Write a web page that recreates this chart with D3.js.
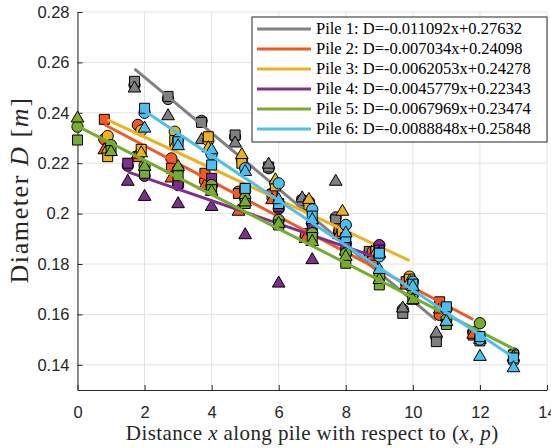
<!DOCTYPE html>
<html>
<head>
<meta charset="utf-8">
<script src="https://cdn.jsdelivr.net/npm/d3@7"></script>
<style>
  body { margin: 0; background: #fff; }
  svg { display: block; }
</style>
</head>
<body>
<script>
// axis ticks
var xTicks = [0, 2, 4, 6, 8, 10, 12, 14];
var yTicks = [0.14, 0.16, 0.18, 0.2, 0.22, 0.24, 0.26, 0.28];
var yTickLabels = ["0.14", "0.16", "0.18", "0.2", "0.22", "0.24", "0.26", "0.28"];

// piles and their linear fits
var pileNames = ["Pile 1", "Pile 2", "Pile 3", "Pile 4", "Pile 5", "Pile 6"];
var pileColors = ["#808080", "#f05a22", "#edb120", "#7e2f8e", "#77ac30", "#4dbeee"];
var fitSlope = [-0.011092, -0.007034, -0.0062053, -0.0045779, -0.0067969, -0.0088848];
var fitIntercept = [0.27632, 0.24098, 0.24278, 0.22343, 0.23474, 0.25848];

// measurements (circle / square / triangle) for each pile
var pile1X        = [1.7, 2.7, 3.7, 4.7, 5.7, 6.7, 7.7, 8.7, 9.7, 10.7];
var pile1Circle   = [0.2510, 0.2455, 0.2368, 0.2305, 0.2180, 0.2055, 0.1985, 0.1845, 0.1620, 0.1510];
var pile1Square   = [0.2525, 0.2465, 0.2362, 0.2312, 0.2185, 0.2050, 0.1975, 0.1850, 0.1604, 0.1492];
var pile1Triangle = [0.2497, 0.2387, 0.2292, 0.2279, 0.2195, 0.2061, 0.2127, 0.1835, 0.1624, 0.1525];

var pile2X        = [0.8, 1.8, 2.8, 3.8, 4.8, 5.8, 6.8, 7.8, 8.8, 9.8, 10.8, 11.8];
var pile2Circle   = [0.2295, 0.2352, 0.2219, 0.2130, 0.2087, 0.2080, 0.1908, 0.1928, 0.1849, 0.1723, 0.1598, 0.1530];
var pile2Square   = [0.2374, 0.2226, 0.2180, 0.2160, 0.2080, 0.2075, 0.1920, 0.1940, 0.1816, 0.1730, 0.1650, 0.1518];
var pile2Triangle = [0.2252, 0.2235, 0.2140, 0.2110, 0.2008, 0.2054, 0.1900, 0.1915, 0.1830, 0.1715, 0.1620, 0.1520];

var pile3X        = [0.9, 1.9, 2.9, 3.9, 4.9, 5.9, 6.9, 7.9, 8.9, 9.9];
var pile3Circle   = [0.2308, 0.2330, 0.2325, 0.2290, 0.2215, 0.2120, 0.2047, 0.1940, 0.1860, 0.1750];
var pile3Square   = [0.2226, 0.2255, 0.2290, 0.2305, 0.2200, 0.2110, 0.2035, 0.1930, 0.1850, 0.1740];
var pile3Triangle = [0.2255, 0.2240, 0.2270, 0.2260, 0.2233, 0.2133, 0.2055, 0.2008, 0.1845, 0.1730];

var pile4X        = [1.5, 2, 3, 4, 5, 6, 7, 8, 9];
var pile4Circle   = [0.2190, 0.2150, 0.2113, 0.2110, 0.2090, 0.2020, 0.1960, 0.1880, 0.1875];
var pile4Square   = [0.2200, 0.2160, 0.2120, 0.2140, 0.2100, 0.2027, 0.1950, 0.1870, 0.1855];
var pile4Triangle = [0.2127, 0.2067, 0.2038, 0.2027, 0.1915, 0.1723, 0.1816, 0.1850, 0.1840];

var pile5X        = [0, 1, 2, 3, 4, 5, 6, 7, 8, 9, 10, 11, 12, 13];
var pile5Circle   = [0.2345, 0.2272, 0.2190, 0.2175, 0.2113, 0.2061, 0.1975, 0.1922, 0.1842, 0.1750, 0.1680, 0.1580, 0.1565, 0.1445];
var pile5Square   = [0.2292, 0.2250, 0.2160, 0.2150, 0.2095, 0.2040, 0.1955, 0.1905, 0.1803, 0.1717, 0.1660, 0.1560, 0.1495, 0.1439];
var pile5Triangle = [0.2378, 0.2245, 0.2186, 0.2186, 0.2087, 0.2045, 0.1960, 0.1888, 0.1829, 0.1737, 0.1657, 0.1570, 0.1500, 0.1430];

var pile6X        = [2, 3, 4, 5, 6, 7, 8, 9, 10, 11, 12, 13];
var pile6Circle   = [0.2400, 0.2295, 0.2235, 0.2180, 0.2120, 0.2017, 0.1955, 0.1830, 0.1730, 0.1620, 0.1500, 0.1415];
var pile6Square   = [0.2418, 0.2285, 0.2193, 0.2100, 0.2040, 0.1990, 0.1905, 0.1843, 0.1720, 0.1630, 0.1512, 0.1427];
var pile6Triangle = [0.2338, 0.2268, 0.2252, 0.2166, 0.2054, 0.1975, 0.1922, 0.1777, 0.1710, 0.1571, 0.1432, 0.1387];

var pileX = [pile1X, pile2X, pile3X, pile4X, pile5X, pile6X];
var pileCircle = [pile1Circle, pile2Circle, pile3Circle, pile4Circle, pile5Circle, pile6Circle];
var pileSquare = [pile1Square, pile2Square, pile3Square, pile4Square, pile5Square, pile6Square];
var pileTriangle = [pile1Triangle, pile2Triangle, pile3Triangle, pile4Triangle, pile5Triangle, pile6Triangle];

var svgWidth = 551;
var svgHeight = 448;
var margin = { top: 12, right: 4, bottom: 58, left: 77.5 };
var width = svgWidth - margin.left - margin.right;
var height = svgHeight - margin.top - margin.bottom;

var svg = d3.select("body").append("svg")
  .attr("width", svgWidth)
  .attr("height", svgHeight)
  .style("background", "#fff");

var chartGroup = svg.append("g")
  .attr("transform", `translate(${margin.left}, ${margin.top})`);

var xScale = d3.scaleLinear().domain([0, 14]).range([0, width]);
var yScale = d3.scaleLinear().domain([0.13, 0.28]).range([height, 0]);

// grid
chartGroup.append("g").selectAll("line")
  .data(xTicks).enter().append("line")
  .attr("x1", d => xScale(d)).attr("x2", d => xScale(d))
  .attr("y1", 0).attr("y2", height)
  .attr("stroke", "#e2e2e2").attr("stroke-width", 1);
chartGroup.append("g").selectAll("line")
  .data(yTicks).enter().append("line")
  .attr("x1", 0).attr("x2", width)
  .attr("y1", d => yScale(d)).attr("y2", d => yScale(d))
  .attr("stroke", "#e2e2e2").attr("stroke-width", 1);

// axes
var bottomAxis = d3.axisBottom(xScale).tickValues(xTicks).tickSizeInner(-5).tickSizeOuter(0).tickPadding(16);
var leftAxis = d3.axisLeft(yScale).tickValues(yTicks).tickSizeInner(-5).tickSizeOuter(0).tickPadding(8)
  .tickFormat((d, i) => yTickLabels[i]);

var xAxis = chartGroup.append("g")
  .attr("transform", `translate(0, ${height})`)
  .call(bottomAxis);
var yAxis = chartGroup.append("g").call(leftAxis);

[xAxis, yAxis].forEach(function(ax) {
  ax.select(".domain").attr("stroke", "#262626");
  ax.selectAll(".tick line").attr("stroke", "#262626");
  ax.selectAll("text")
    .attr("fill", "#262626")
    .style("font-family", "'Liberation Sans', Arial, sans-serif")
    .style("font-size", "16.5px");
});

// markers and fit lines, pile by pile
var circleSym = d3.symbol().type(d3.symbolCircle).size(100);
var squareSym = d3.symbol().type(d3.symbolSquare).size(100);
var triangleSym = d3.symbol().type(d3.symbolTriangle).size(70);

pileNames.forEach(function(name, p) {
  var g = chartGroup.append("g");
  var xs = pileX[p];
  var sets = [[pileCircle[p], circleSym], [pileSquare[p], squareSym], [pileTriangle[p], triangleSym]];

  sets.forEach(function(set) {
    g.selectAll(null)
      .data(xs.map((x, i) => ({ x: x, y: set[0][i] })))
      .enter()
      .append("path")
      .attr("d", set[1])
      .attr("transform", d => `translate(${xScale(d.x)}, ${yScale(d.y)})`)
      .attr("fill", pileColors[p])
      .attr("stroke", "#000")
      .attr("stroke-width", 1);
  });

  var xMin = d3.min(xs), xMax = d3.max(xs);
  g.append("line")
    .attr("x1", xScale(xMin)).attr("y1", yScale(fitSlope[p] * xMin + fitIntercept[p]))
    .attr("x2", xScale(xMax)).attr("y2", yScale(fitSlope[p] * xMax + fitIntercept[p]))
    .attr("stroke", pileColors[p])
    .attr("stroke-width", 3);
});

// axis labels
var xLabel = svg.append("text")
  .attr("x", margin.left + width / 2)
  .attr("y", 440)
  .attr("text-anchor", "middle")
  .style("font-family", "'Liberation Serif', 'Times New Roman', serif")
  .style("font-size", "21px")
  .style("letter-spacing", "0.4px")
  .attr("fill", "#262626");
xLabel.append("tspan").text("Distance ");
xLabel.append("tspan").style("font-style", "italic").text("x");
xLabel.append("tspan").text(" along pile with respect to (");
xLabel.append("tspan").style("font-style", "italic").text("x, p");
xLabel.append("tspan").text(")");

var yLabel = svg.append("text")
  .attr("transform", "translate(28, 190) rotate(-90)")
  .attr("text-anchor", "middle")
  .style("font-family", "'Liberation Serif', 'Times New Roman', serif")
  .style("font-size", "26px")
  .style("letter-spacing", "1.6px")
  .attr("fill", "#262626");
yLabel.append("tspan").text("Diameter ");
yLabel.append("tspan").style("font-style", "italic").text("D");
yLabel.append("tspan").text(" [");
yLabel.append("tspan").style("font-style", "italic").text("m");
yLabel.append("tspan").text("]");

// legend
var legend = svg.append("g").attr("transform", "translate(252, 17)");
legend.append("rect")
  .attr("x", 0).attr("y", 0)
  .attr("width", 295).attr("height", 125)
  .attr("fill", "#fff")
  .attr("stroke", "#262626")
  .attr("stroke-width", 1);

var legendItems = legend.selectAll("g.item")
  .data(pileNames).enter().append("g")
  .attr("transform", (d, i) => `translate(0, ${12 + i * 20})`);

legendItems.append("line")
  .attr("x1", 5).attr("x2", 59)
  .attr("y1", 0).attr("y2", 0)
  .attr("stroke", (d, i) => pileColors[i])
  .attr("stroke-width", 3);

legendItems.append("text")
  .attr("x", 64)
  .attr("y", 5)
  .style("font-family", "'Liberation Serif', 'Times New Roman', serif")
  .style("font-size", "16.5px")
  .attr("fill", "#000")
  .text((d, i) => `${d}:  D=${fitSlope[i]}x+${fitIntercept[i]}`);
</script>
</body>
</html>
